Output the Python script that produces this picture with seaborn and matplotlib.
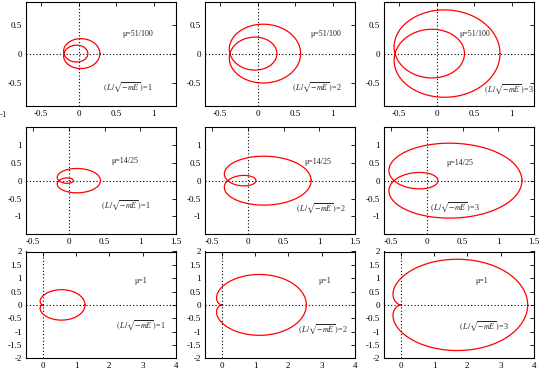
import numpy as np
import pandas as pd
import matplotlib
matplotlib.use("Agg")
import matplotlib.pyplot as plt
import seaborn as sns

# ---------------- data ----------------
mu_labels = ["51/100", "51/100", "51/100", "14/25", "14/25", "14/25", "1", "1", "1"]
L_values = [1, 2, 3, 1, 2, 3, 1, 2, 3]

# curve shape coefficients per panel: x = x0 + p cos t + q cos 2t ; y = r sin t + s sin 2t
x0 = [0.005, 0.0245, 0.0285, 0.0565, 0.109, 0.142, 0.377, 0.753, 1.13]
p = [0.080, 0.158, 0.237, 0.190, 0.386, 0.587, 0.635, 1.27, 1.905]
q = [0.200, 0.3925, 0.5815, 0.1965, 0.391, 0.602, 0.258, 0.517, 0.775]
r = [0.080, 0.158, 0.237, 0.190, 0.386, 0.587, 0.439, 0.877, 1.316]
s = [0.200, 0.3925, 0.5815, 0.1965, 0.391, 0.602, 0.219, 0.439, 0.658]

# per-row axis ranges and ticks
row_xlim = [(-0.7, 1.3), (-0.6, 1.5), (-0.5, 4.0)]
row_ylim = [(-0.9, 0.9), (-1.5, 1.5), (-2.0, 2.0)]
row_xticks = [[-0.5, 0, 0.5, 1], [-0.5, 0, 0.5, 1, 1.5], [0, 1, 2, 3, 4]]
row_yticks = [[-0.5, 0, 0.5], [-1, -0.5, 0, 0.5, 1], [-2, -1.5, -1, -0.5, 0, 0.5, 1, 1.5, 2]]

# annotation positions (data coords)
mu_pos = [(0.59, 0.33), (0.71, 0.34), (0.31, 0.33),
          (0.59, 0.55), (0.79, 0.52), (0.28, 0.50),
          (2.75, 0.88), (2.9, 0.90), (2.25, 0.88)]
lab_pos = [(0.33, -0.575), (0.46, -0.575), (0.64, -0.62),
           (0.45, -0.685), (0.68, -0.78), (0.05, -0.75),
           (2.2, -0.75), (2.3, -0.90), (1.74, -0.78)]

# ---------------- style ----------------
sns.set_theme(style="white")
plt.rcParams["font.family"] = ["Liberation Serif", "DejaVu Serif"]
plt.rcParams["mathtext.fontset"] = "stix"
plt.rcParams["axes.unicode_minus"] = False

W, H = 540, 371
fig = plt.figure(figsize=(W / 100, H / 100), dpi=100)

col_left = [26, 205, 384]
col_w = 150
row_top = [1.5, 127.0, 251.5]
row_bot = [105.7, 234.3, 358.3]

t = np.linspace(0, 2 * np.pi, 1441)
fs = 6.5
fs_txt = 5.8

for i in range(9):
    row, col = divmod(i, 3)
    left = col_left[col] / W
    bottom = 1 - row_bot[row] / H
    height = (row_bot[row] - row_top[row]) / H
    ax = fig.add_axes([left, bottom, col_w / W, height])

    xs = x0[i] + p[i] * np.cos(t) + q[i] * np.cos(2 * t)
    ys = r[i] * np.sin(t) + s[i] * np.sin(2 * t)
    df = pd.DataFrame({"x": xs, "y": ys})

    ax.axhline(0, color="black", lw=0.8, ls=(0, (1, 2)), zorder=1)
    ax.axvline(0, color="black", lw=0.8, ls=(0, (1, 2)), zorder=1)
    sns.lineplot(data=df, x="x", y="y", sort=False, estimator=None,
                 color="#ff0000", lw=0.9, ax=ax, zorder=3)

    ax.set_xlim(*row_xlim[row])
    ax.set_ylim(*row_ylim[row])
    ax.set_xticks(row_xticks[row])
    ax.set_xticklabels([f"{v:g}" for v in row_xticks[row]])
    ax.set_yticks(row_yticks[row])
    ax.set_yticklabels([f"{v:g}" for v in row_yticks[row]])
    ax.set_xlabel("")
    ax.set_ylabel("")
    ax.tick_params(direction="in", length=3, width=0.6, top=True, right=True,
                   labelsize=fs, pad=3, colors="black")
    for sp in ax.spines.values():
        sp.set_color("black")
        sp.set_linewidth(0.8)
        sp.set_visible(True)

    ax.text(mu_pos[i][0], mu_pos[i][1], "\u03bc=" + mu_labels[i],
            fontsize=fs_txt, ha="left", va="center")
    ax.text(lab_pos[i][0], lab_pos[i][1],
            r"$(\,L/\sqrt{-mE}\,)$=" + str(L_values[i]),
            fontsize=fs_txt, ha="left", va="center")

    if i == 0:
        ax.annotate("-1", xy=(-1, 0), xycoords=("data", "axes fraction"),
                    xytext=(0, -4), textcoords="offset points",
                    ha="center", va="top", fontsize=fs, annotation_clip=False)

fig.savefig("out.png", dpi=100)
